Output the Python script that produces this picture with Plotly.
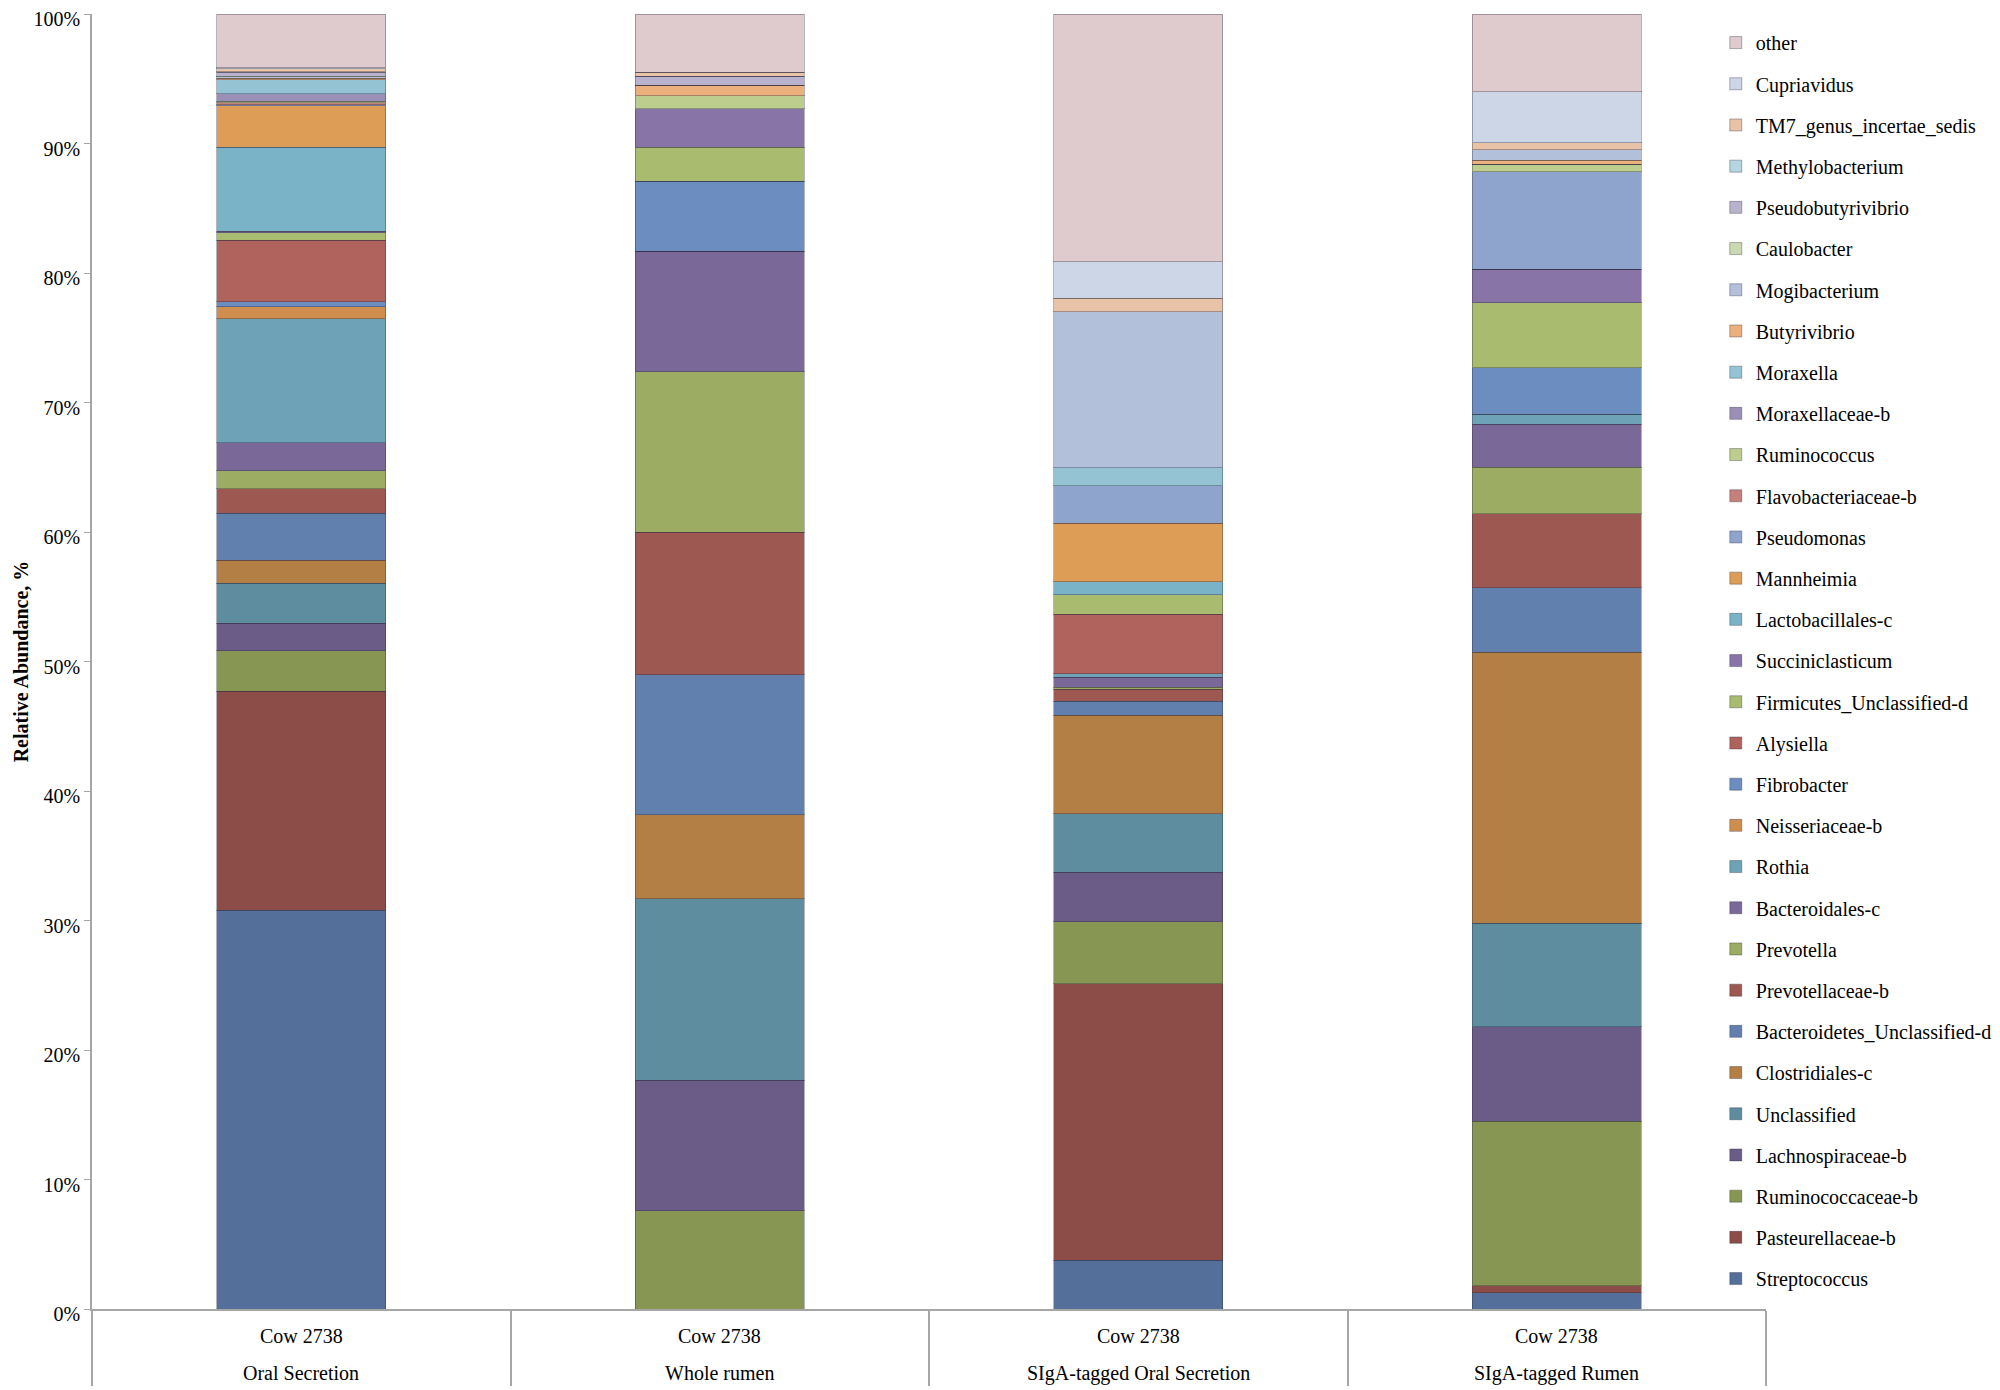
import plotly.graph_objects as go

# samples and the cow id shown above them
samples = ["Oral Secretion", "Whole rumen", "SIgA-tagged Oral Secretion", "SIgA-tagged Rumen"]
cow = ["Cow 2738"] * 4

# genera, bottom of the stack first
taxa = [
    "Streptococcus", "Pasteurellaceae-b", "Ruminococcaceae-b", "Lachnospiraceae-b",
    "Unclassified", "Clostridiales-c", "Bacteroidetes_Unclassified-d", "Prevotellaceae-b",
    "Prevotella", "Bacteroidales-c", "Rothia", "Neisseriaceae-b", "Fibrobacter",
    "Alysiella", "Firmicutes_Unclassified-d", "Succiniclasticum", "Lactobacillales-c",
    "Mannheimia", "Pseudomonas", "Flavobacteriaceae-b", "Ruminococcus",
    "Moraxellaceae-b", "Moraxella", "Butyrivibrio", "Mogibacterium", "Caulobacter",
    "Pseudobutyrivibrio", "Methylobacterium", "TM7_genus_incertae_sedis",
    "Cupriavidus", "other",
]

# relative abundance (%) per sample, same order as taxa
oral_secretion = [30.85, 16.9, 3.15, 2.14, 3.08, 1.79, 3.6, 1.9, 1.4, 2.17, 9.6, 0.9, 0.4,
                  4.75, 0.6, 0.1, 6.5, 3.2, 0.1, 0.15, 0.1, 0.6, 1.05, 0.15, 0.1, 0.05,
                  0.3, 0.05, 0.2, 0.1, 4.15]
whole_rumen = [0, 0, 7.57, 10.1, 14.0, 6.5, 10.8, 11.0, 12.4, 9.3, 0, 0, 5.4,
               0, 2.6, 3.0, 0, 0, 0, 0, 1.0, 0, 0, 0.8, 0, 0,
               0.7, 0, 0.3, 0, 4.5]
siga_oral = [3.77, 21.3, 4.8, 3.8, 4.5, 7.6, 1.1, 0.9, 0.15, 0.8, 0.25, 0, 0,
             4.6, 1.5, 0, 1.0, 4.5, 2.9, 0, 0, 0, 1.4, 0, 12.0, 0,
             0, 0, 1.06, 2.8, 19.1]
siga_rumen = [1.26, 0.55, 12.7, 7.3, 8.0, 20.9, 5.0, 5.7, 3.6, 3.3, 0.8, 0, 3.6,
              0, 5.0, 2.6, 0, 0, 7.5, 0, 0.6, 0, 0, 0.3, 0.8, 0,
              0, 0, 0.55, 3.95, 6.0]

colors = [
    "#546f99", "#8c4d48", "#889654", "#6b5b87", "#5e8da0", "#b47f45", "#6280ad",
    "#9e5852", "#9cac62", "#7a6898", "#6ea2b6", "#cf8e4e", "#6b8dbf", "#b0635c",
    "#a9bb6f", "#8874a7", "#7ab2c7", "#dd9d57", "#8ea4cc", "#c4807b", "#bccd8e",
    "#9a8fb6", "#94c4d4", "#ebb07c", "#b3c0da", "#cbd9b0", "#b8b2cc", "#b5d6e0",
    "#e9c3a8", "#cdd6e6", "#dfcbcd",
]

serif = "Liberation Serif, Times New Roman, serif"
grey = "#a6a6a6"

fig = go.Figure()
for i, name in enumerate(taxa):
    vals = [oral_secretion[i], whole_rumen[i], siga_oral[i], siga_rumen[i]]
    fig.add_trace(go.Bar(
        x=samples, y=vals, name=name, legendgroup=name, legendrank=len(taxa) - i,
        marker=dict(color=colors[i], line=dict(color="rgba(40,40,60,0.35)", width=1)),
    ))

# two rows of category labels: cow id, then sample name
for s, c in zip(samples, cow):
    fig.add_annotation(x=s, xref="x", y=0, yref="paper", yshift=-27,
                       text=c, showarrow=False, yanchor="middle",
                       font=dict(family=serif, size=20, color="black"))
    fig.add_annotation(x=s, xref="x", y=0, yref="paper", yshift=-64,
                       text=s, showarrow=False, yanchor="middle",
                       font=dict(family=serif, size=20, color="black"))

# margins allow for the 8px body margin of the html page
fig.update_layout(
    barmode="stack", barnorm="percent", bargap=0.596,
    width=2000, height=1390,
    margin=dict(l=84, r=242, t=6, b=89, autoexpand=False),
    paper_bgcolor="white", plot_bgcolor="white",
    font=dict(family=serif, size=20, color="black"),
    legend=dict(
        traceorder="grouped", tracegroupgap=12.2,
        x=0.97, xanchor="left", y=0.993, yanchor="top",
        font=dict(family=serif, size=20, color="black"),
        bgcolor="rgba(0,0,0,0)",
    ),
)

fig.update_yaxes(
    range=[0, 100], dtick=10, ticksuffix="%",
    showgrid=False, zeroline=False,
    showline=True, linecolor=grey, linewidth=1.5,
    ticks="outside", ticklen=6, tickcolor=grey,
    ticklabeloverflow="allow", ticklabelshift=5,
    tickfont=dict(family=serif, size=20),
    title=dict(text="<b>Relative Abundance, %</b>", font=dict(family=serif, size=20), standoff=0),
)
fig.update_xaxes(
    type="category", showticklabels=False,
    tickson="boundaries", ticks="outside", ticklen=75, tickwidth=1.5, tickcolor=grey,
    showgrid=False, showline=True, linecolor=grey, linewidth=1.5,
)

fig.write_html("out.html")
